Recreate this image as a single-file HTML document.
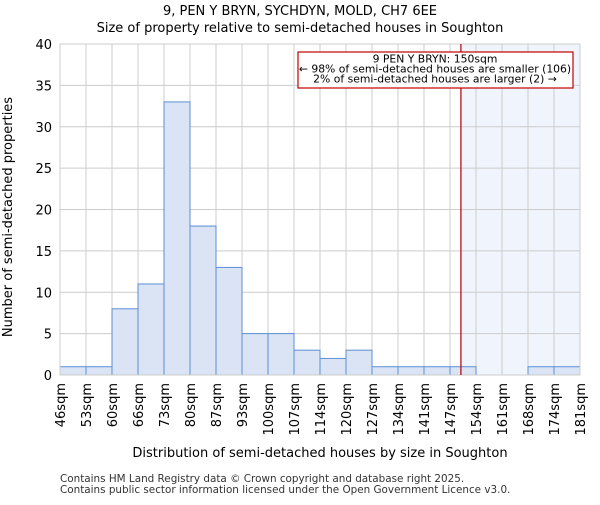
<!DOCTYPE html>
<html><head><meta charset="utf-8"><style>body{margin:0;background:#fff}svg{font-family:"DejaVu Sans","Liberation Sans",sans-serif}</style></head>
<body>
<svg id="c" width="600" height="500" xmlns="http://www.w3.org/2000/svg">
<text x="300" y="15" text-anchor="middle" font-size="13">9, PEN Y BRYN, SYCHDYN, MOLD, CH7 6EE</text>
<text x="300" y="32" text-anchor="middle" font-size="13">Size of property relative to semi-detached houses in Soughton</text>
<g id="grid"></g><g id="bars"></g><g id="axes"></g>
<text x="320" y="457" text-anchor="middle" font-size="13">Distribution of semi-detached houses by size in Soughton</text>
<text transform="translate(12,217) rotate(-90)" text-anchor="middle" font-size="13">Number of semi-detached properties</text>
<text x="60" y="482" font-size="10.4" fill="#333">Contains HM Land Registry data © Crown copyright and database right 2025.</text>
<text x="60" y="493" font-size="10.4" fill="#333">Contains public sector information licensed under the Open Government Licence v3.0.</text>
</svg>
<script>
const categories=["46sqm","53sqm","60sqm","66sqm","73sqm","80sqm","87sqm","93sqm","100sqm","107sqm","114sqm","120sqm","127sqm","134sqm","141sqm","147sqm","154sqm","161sqm","168sqm","174sqm","181sqm"];
const counts=[1,1,8,11,33,18,13,5,5,3,2,3,1,1,1,1,0,0,1,1];
const yTicks=[0,5,10,15,20,25,30,35,40];
const subjectBin=15.42;
const NS="http://www.w3.org/2000/svg";
const L=60,R=580,T=44,B=375,bw=(R-L)/counts.length;
const x=i=>L+i*bw, y=v=>B-(v/40)*(B-T);
function mk(p,t,a){const e=document.createElementNS(NS,t);for(const k in a)e.setAttribute(k,a[k]);document.getElementById(p).appendChild(e);return e;}
let sh=mk('grid','rect',{x:x(subjectBin),y:T,width:R-x(subjectBin),height:B-T,fill:'#f0f4fc'});


for(let i=0;i<categories.length;i++){let g=mk('grid','line',{x1:x(i),x2:x(i),y1:T,y2:B,stroke:'#ccc'});

}
yTicks.forEach(v=>{let g=mk('grid','line',{x1:L,x2:R,y1:y(v),y2:y(v),stroke:'#ccc'});


let t=mk('axes','text',{x:L-8,y:y(v)+5,'text-anchor':'end','font-size':13});t.textContent=v;

});
counts.forEach((c,i)=>{if(c<=0)return;let r=mk('bars','rect',{x:x(i),y:y(c),width:bw,height:B-y(c),fill:'#dae4f4',stroke:'#5b8fd4','stroke-width':1});

});
categories.forEach((c,i)=>{let t=mk('axes','text',{transform:`translate(${x(i)+5},383) rotate(-90)`,'text-anchor':'end','font-size':13});t.textContent=c;

});
let ax=mk('axes','rect',{x:L,y:T,width:R-L,height:B-T,fill:'none',stroke:'#ccc'});


let ml=mk('axes','line',{x1:x(subjectBin),x2:x(subjectBin),y1:T,y2:B,stroke:'#b00000','stroke-width':1.2});


let bx=mk('axes','rect',{x:298,y:52,width:275,height:36,fill:'#fff',stroke:'#c00000','stroke-width':1.2});


["9 PEN Y BRYN: 150sqm","← 98% of semi-detached houses are smaller (106)","2% of semi-detached houses are larger (2) →"].forEach((s,i)=>{let t=mk('axes','text',{x:435,y:62.5+i*10,'text-anchor':'middle','font-size':10.8});t.textContent=s;

});
</script>
</body></html>
